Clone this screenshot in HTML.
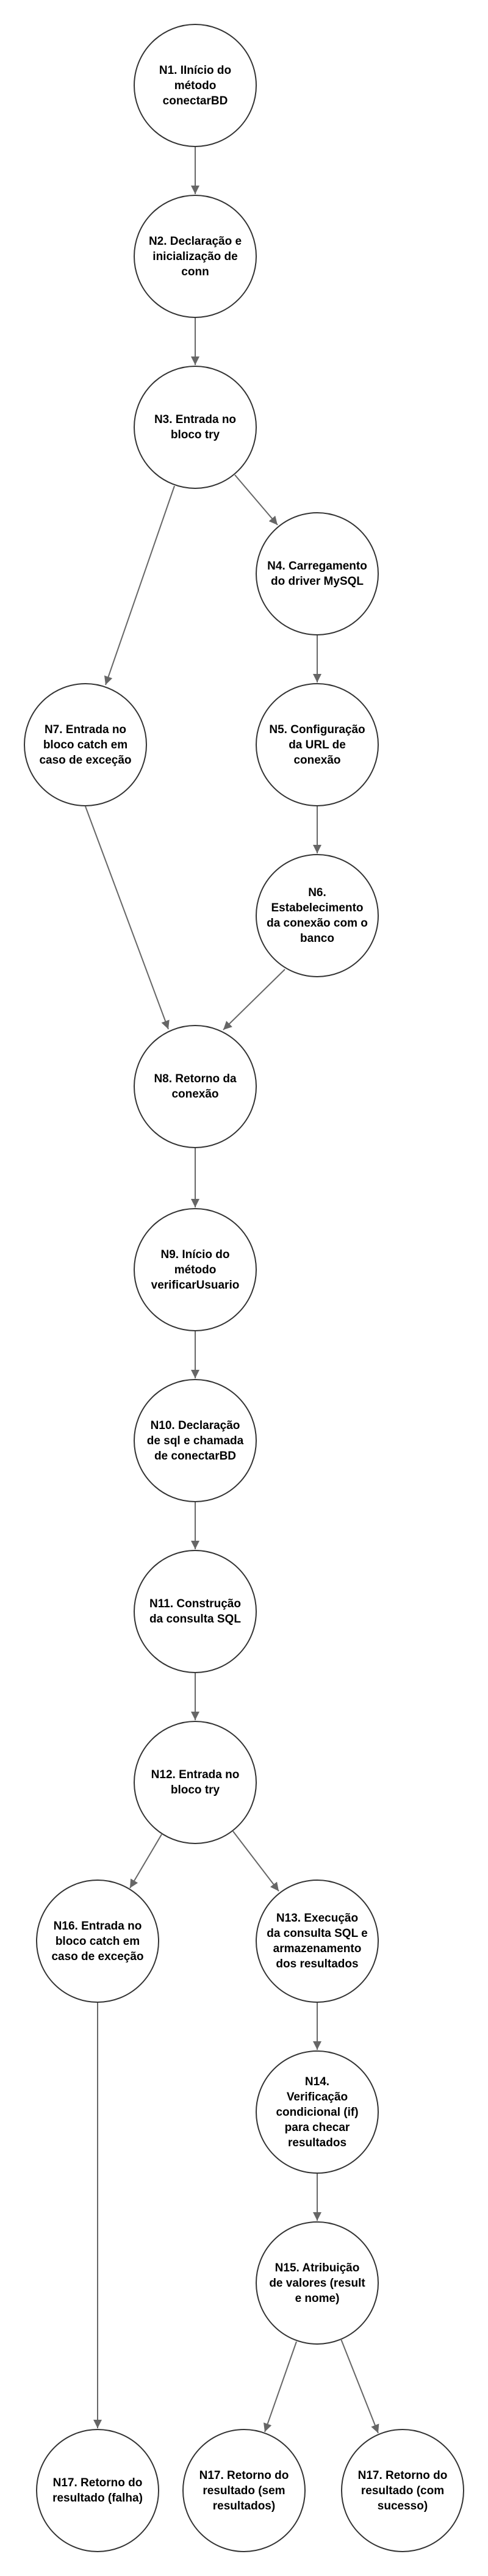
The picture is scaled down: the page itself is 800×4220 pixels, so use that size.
<!DOCTYPE html>
<html><head><meta charset="utf-8"><style>
html,body{margin:0;padding:0;background:#fff;}
body{width:800px;height:4220px;position:relative;overflow:hidden;font-family:"Liberation Sans",Arial,sans-serif;}
svg{position:absolute;left:0;top:0;}
.n{position:absolute;width:220px;height:200px;margin-left:-10px;display:flex;align-items:center;justify-content:center;text-align:center;font-weight:bold;font-size:19px;line-height:25px;color:#000;white-space:nowrap;}
</style></head><body>
<svg width="800" height="4220" viewBox="0 0 800 4220">
<defs><marker id="a" markerUnits="userSpaceOnUse" markerWidth="16" markerHeight="16" refX="14" refY="7" orient="auto"><path d="M0,0 L14,7 L0,14 z" fill="#666"/></marker></defs>
<g fill="#fff" stroke="#333" stroke-width="2">
<circle cx="320" cy="140" r="100"/>
<circle cx="320" cy="420" r="100"/>
<circle cx="320" cy="700" r="100"/>
<circle cx="520" cy="940" r="100"/>
<circle cx="140" cy="1220" r="100"/>
<circle cx="520" cy="1220" r="100"/>
<circle cx="520" cy="1500" r="100"/>
<circle cx="320" cy="1780" r="100"/>
<circle cx="320" cy="2080" r="100"/>
<circle cx="320" cy="2360" r="100"/>
<circle cx="320" cy="2640" r="100"/>
<circle cx="320" cy="2920" r="100"/>
<circle cx="160" cy="3180" r="100"/>
<circle cx="520" cy="3180" r="100"/>
<circle cx="520" cy="3460" r="100"/>
<circle cx="520" cy="3740" r="100"/>
<circle cx="160" cy="4080" r="100"/>
<circle cx="400" cy="4080" r="100"/>
<circle cx="660" cy="4080" r="100"/>
</g>
<g stroke="#666" stroke-width="2" fill="none" marker-end="url(#a)">
<line x1="320" y1="241" x2="320" y2="318"/>
<line x1="320" y1="521" x2="320" y2="598"/>
<line x1="385" y1="778" x2="455" y2="860"/>
<line x1="286" y1="796" x2="173" y2="1122"/>
<line x1="520" y1="1041" x2="520" y2="1118"/>
<line x1="520" y1="1321" x2="520" y2="1398"/>
<line x1="140" y1="1321" x2="276" y2="1686"/>
<line x1="467" y1="1588" x2="366" y2="1687"/>
<line x1="320" y1="1881" x2="320" y2="1978"/>
<line x1="320" y1="2181" x2="320" y2="2258"/>
<line x1="320" y1="2461" x2="320" y2="2538"/>
<line x1="320" y1="2741" x2="320" y2="2818"/>
<line x1="265" y1="3005" x2="213" y2="3093"/>
<line x1="382" y1="3000" x2="457" y2="3098"/>
<line x1="520" y1="3281" x2="520" y2="3358"/>
<line x1="520" y1="3561" x2="520" y2="3638"/>
<line x1="160" y1="3281" x2="160" y2="3978"/>
<line x1="486" y1="3836" x2="434" y2="3984"/>
<line x1="559" y1="3832" x2="620" y2="3986"/>
</g>
</svg>
<div class="n" style="left:220px;top:40px">N1. IInício do<br>método<br>conectarBD</div>
<div class="n" style="left:220px;top:320px">N2. Declaração e<br>inicialização de<br>conn</div>
<div class="n" style="left:220px;top:600px">N3. Entrada no<br>bloco try</div>
<div class="n" style="left:420px;top:840px">N4. Carregamento<br>do driver MySQL</div>
<div class="n" style="left:40px;top:1120px">N7. Entrada no<br>bloco catch em<br>caso de exceção</div>
<div class="n" style="left:420px;top:1120px">N5. Configuração<br>da URL de<br>conexão</div>
<div class="n" style="left:420px;top:1400px">N6.<br>Estabelecimento<br>da conexão com o<br>banco</div>
<div class="n" style="left:220px;top:1680px">N8. Retorno da<br>conexão</div>
<div class="n" style="left:220px;top:1980px">N9. Início do<br>método<br>verificarUsuario</div>
<div class="n" style="left:220px;top:2260px">N10. Declaração<br>de sql e chamada<br>de conectarBD</div>
<div class="n" style="left:220px;top:2540px">N11. Construção<br>da consulta SQL</div>
<div class="n" style="left:220px;top:2820px">N12. Entrada no<br>bloco try</div>
<div class="n" style="left:60px;top:3080px">N16. Entrada no<br>bloco catch em<br>caso de exceção</div>
<div class="n" style="left:420px;top:3080px">N13. Execução<br>da consulta SQL e<br>armazenamento<br>dos resultados</div>
<div class="n" style="left:420px;top:3360px">N14.<br>Verificação<br>condicional (if)<br>para checar<br>resultados</div>
<div class="n" style="left:420px;top:3640px">N15. Atribuição<br>de valores (result<br>e nome)</div>
<div class="n" style="left:60px;top:3980px">N17. Retorno do<br>resultado (falha)</div>
<div class="n" style="left:300px;top:3980px">N17. Retorno do<br>resultado (sem<br>resultados)</div>
<div class="n" style="left:560px;top:3980px">N17. Retorno do<br>resultado (com<br>sucesso)</div>
</body></html>
